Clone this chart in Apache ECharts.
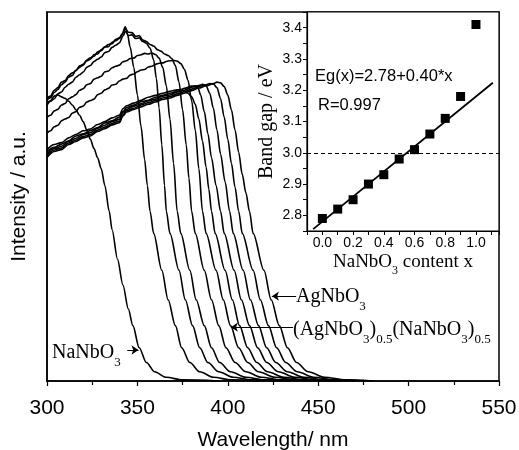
<!DOCTYPE html>
<html>
<head>
<meta charset="utf-8">
<script src="https://cdn.jsdelivr.net/npm/echarts/dist/echarts.min.js"></script>
<style>
  html, body { margin: 0; padding: 0; background: #fff; }
  #main { width: 519px; height: 450px; }
</style>
</head>
<body>
<div id="main"></div>
<script>
// UV-vis spectra, [wavelength nm, intensity a.u.], one array per NaNbO3 content x
const s100 = [[300,75.3],[302,76],[304,77.2],[306,77.5],[308,77],[310,76.6],[312,75.8],[314,74.8],[316,73.5],[318,72],[320,70.3],[322,68],[324,65.5],[326,63],[328,60.5],[330,57.5],[332,53],[334.4,46],[336,41],[339,33],[342,26],[345,19.5],[347.5,15],[351,9],[355,5],[359.5,2.5],[366,1],[375,0.3],[395,0]];
const s090 = [[300,76.2],[302,76.8],[304,78.2],[306,79],[308,80.3],[310,81],[312,82.4],[314,82.8],[316,84.2],[318,85],[320,85.6],[322,86.8],[324,87.2],[326,88.5],[328,88.6],[330,89.8],[332,90.5],[334,90.6],[336,91.8],[338,92.2],[340,92.8],[341.5,94],[343.3,96],[344.5,94],[346,90.5],[348,85],[350,77.5],[352,69],[354,60],[355.5,53],[357,46],[359,40],[363.5,30],[367,22],[371,15],[374.5,9],[379,5],[384.5,2.5],[392,1],[402,0.3],[420,0]];
const s080 = [[300,74.8],[302,75.8],[304,76.5],[306,77.8],[308,78.3],[310,79.6],[312,80.4],[314,81],[316,82.3],[318,83],[320,83.7],[322,85],[324,85.5],[326,86.6],[328,87.2],[330,87.8],[332,89],[334,89.3],[336,90.4],[338,91],[340,91.6],[342,93.5],[343.5,94.8],[345,93.6],[347,93.8],[349,92.8],[351,93],[353,92],[355,91.5],[357,90.2],[359,87],[360.5,82],[362,74],[363.5,64],[365,53],[366,46],[368,40],[373,30],[376.5,22],[380.5,15],[384.5,9],[389,5],[395,2.5],[403,1],[413,0.3],[430,0]];
const s070 = [[300,71.5],[302,72],[304,73.2],[306,73.6],[308,74.8],[310,75.2],[312,76.5],[314,77],[316,77.6],[318,78.8],[320,79.2],[322,80.3],[324,80.6],[326,81.8],[328,82.2],[330,82.6],[332,83.8],[334,84],[336,84.9],[338,85.3],[340,85.6],[342,86.5],[344,86.8],[346,87.4],[348,87.5],[350,88.2],[352,88.4],[354,88.8],[356,88.6],[358,88.9],[360,88.5],[362,87.5],[364,85],[366,80],[368,71],[370,59],[372,46],[374,40],[379,30],[382.5,22],[387,15],[391,9],[395.5,5],[401.5,2.5],[410,1],[420,0.3],[435,0]];
const s060 = [[300,76.7],[302,77.2],[304,78.8],[306,79.5],[308,81],[310,81.4],[312,82.8],[314,83.5],[316,84.1],[318,85.4],[320,85.8],[322,87],[324,87.6],[326,88],[328,89.2],[330,89.5],[332,90.6],[334,91.2],[336,91.4],[338,92.6],[340,93],[342,94.2],[343.3,95.6],[345,94.5],[347,94.4],[349,93.4],[351,93.6],[353,92.4],[355,92],[357,91.2],[359,90.8],[361,89.8],[363,89.4],[365,88.6],[367,88.2],[369,87.4],[371,85.5],[373,81],[375,73.5],[377,64],[378.5,55],[380,46],[382,40],[387,30],[391,22],[395,15],[399,9],[404,5],[410,2.5],[418.5,1],[429,0.3],[445,0]];
const s050 = [[300,67.2],[302,67.8],[304,68.9],[306,69.3],[308,70.5],[310,71],[312,71.4],[314,72.6],[316,73],[318,74.2],[320,74.5],[322,75.6],[324,76],[326,76.4],[328,77.6],[330,78],[332,78.9],[334,79.3],[336,80.2],[338,80.4],[340,81.3],[342,81.8],[344,82],[346,82.9],[348,83.2],[350,83.8],[352,84.3],[354,84.4],[356,85.1],[358,85.3],[360,85.8],[362,86.1],[364,86.2],[366,86.6],[368,86.8],[370,86.9],[372,86.7],[374,86],[376,84.5],[378,81.5],[380,76],[382,68],[384,57.5],[386,46],[388,40],[393.5,30],[397.5,22],[401.5,15],[406,9],[411,5],[417,2.5],[426,1],[437,0.3],[455,0]];
const s040 = [[300,62.7],[304,64.1],[308,64.6],[312,65.9],[316,66.8],[320,67.8],[324,68.3],[328,69.5],[332,70.3],[336,71.3],[340,72],[342,73.8],[344,74.6],[348,75.3],[352,76.1],[356,76.9],[360,77.4],[364,78],[368,78.5],[372,78.9],[374,79],[376,78.6],[378,78],[380,77],[382,75],[384,71],[386,65],[388,58],[389.5,52],[391,46],[393,40],[398.5,30],[402.5,22],[406.5,15],[411,9],[416,5],[422,2.5],[431,1],[442,0.3],[460,0]];
const s030 = [[300,62.2],[304,63.3],[308,64.2],[312,65.1],[316,66.4],[320,67],[324,67.9],[328,68.7],[332,69.9],[336,70.5],[340,71.5],[342,73],[344,74.1],[348,74.8],[352,75.7],[356,76.1],[360,76.9],[364,77.4],[368,78],[372,78.5],[376,79.3],[380,79.9],[382,80],[383.5,79.5],[385,77.5],[387,73],[389,67],[391,60.5],[393.5,53],[396,46],[398,40],[403.5,30],[407.5,22],[412,15],[416.5,9],[421.5,5],[428,2.5],[437,1],[448,0.3],[465,0]];
const s020 = [[300,61.6],[304,63],[308,63.6],[312,64.9],[316,65.8],[320,66.8],[324,67.3],[328,68.5],[332,69.3],[336,70.3],[340,70.9],[342,72.8],[344,73.6],[348,74.5],[352,75.1],[356,75.9],[360,76.4],[364,77.2],[368,77.5],[372,78.3],[376,78.8],[380,79.6],[384,80.1],[386,80.4],[388,80],[390,78],[392,74],[394,68],[396,61.5],[398.5,54],[401,46],[403,40],[408.5,30],[412.5,22],[417,15],[421.5,9],[426.5,5],[433,2.5],[442,1],[453,0.3],[470,0]];
const s010 = [[300,61.1],[304,62.6],[308,63.1],[312,64.5],[316,65.3],[320,66.3],[324,66.8],[328,68],[332,68.8],[336,69.8],[340,70.4],[342,72.1],[344,73.3],[348,73.9],[352,74.8],[356,75.4],[360,76],[364,76.7],[368,77.1],[372,77.8],[376,78.4],[380,79.1],[384,79.8],[388,80.3],[390,80.6],[392,80.5],[394,79.5],[396,76.5],[398,71.5],[400,65.5],[402,59],[404,52.5],[406,46],[408,40],[414,30],[418,22],[422.5,15],[427,9],[432,5],[438.5,2.5],[447.5,1],[459,0.3],[475,0]];
const s000 = [[300,60.6],[304,62.2],[308,62.7],[312,64.1],[316,64.9],[320,65.9],[324,66.4],[328,67.6],[332,68.4],[336,69.4],[340,70],[342,71.8],[344,72.9],[348,73.6],[352,74.3],[356,75],[360,75.6],[364,76.3],[368,76.7],[372,77.4],[376,78],[380,78.7],[384,79.4],[388,80],[392,80.6],[394,81],[396,80.8],[398,79.8],[400,77.5],[402,73.5],[404,68],[406,62],[408,56],[410,51],[412,46],[414,40],[420,30],[424,22],[428.5,15],[433,9],[438,5],[444.5,2.5],[453.5,1],[465,0.3],[480,0]];
const spectra = [s100, s090, s080, s070, s060, s050, s040, s030, s020, s010, s000];

// inset: band gap vs NaNbO3 content
const contentX = [0.0, 0.1, 0.2, 0.3, 0.4, 0.5, 0.6, 0.7, 0.8, 0.9, 1.0];
const bandGap = [2.79, 2.82, 2.85, 2.90, 2.93, 2.98, 3.01, 3.06, 3.11, 3.18, 3.41];
const fitLine = [[-0.06, 2.756], [1.11, 3.224]];
const refGap = 3.0;

// arrows next to the sample labels: [from, to] in wavelength / intensity
const arrowNa = [[344.4, 8.4], [350.6, 8.4]];
const arrowAg = [[437.8, 23], [424.4, 23]];
const arrowMix = [[436.1, 14.6], [401.7, 14.6]];

const SANS = "'Liberation Sans', Arial, sans-serif";
const SERIF = "'Liberation Serif', 'Times New Roman', serif";

const subRich = {
  a: { fontFamily: SERIF, fontSize: 20, color: '#000', lineHeight: 22, verticalAlign: 'top' },
  s: { fontFamily: SERIF, fontSize: 13, color: '#000', lineHeight: 13, padding: [13, 0, 0, 0], verticalAlign: 'top' }
};

var chart = echarts.init(document.getElementById('main'));

var series = spectra.map(function (d, i) {
  var s = {
    type: 'line',
    xAxisIndex: 0,
    yAxisIndex: 0,
    data: d,
    showSymbol: false,
    smooth: 0.3,
    smoothMonotone: 'x',
    lineStyle: { color: '#000', width: 1.6 },
    silent: true
  };
  if (i === 0) {
    s.markLine = {
      silent: true,
      symbol: ['none', 'arrow'],
      symbolSize: 7,
      label: { show: false },
      lineStyle: { color: '#000', width: 1, type: 'solid' },
      data: [arrowNa, arrowAg, arrowMix].map(function (a) {
        return [{ coord: a[0] }, { coord: a[1] }];
      })
    };
  }
  return s;
});

series.push({
  type: 'line',
  xAxisIndex: 1,
  yAxisIndex: 1,
  data: fitLine,
  showSymbol: false,
  lineStyle: { color: '#000', width: 1.8 },
  silent: true,
  z: 10,
  markLine: {
    silent: true,
    symbol: 'none',
    label: { show: false },
    lineStyle: { color: '#000', width: 1, type: [4, 3] },
    data: [{ yAxis: refGap }]
  }
});
series.push({
  type: 'scatter',
  xAxisIndex: 1,
  yAxisIndex: 1,
  data: contentX.map(function (x, i) { return [x, bandGap[i]]; }),
  symbol: 'rect',
  symbolSize: 9,
  itemStyle: { color: '#000', opacity: 1 },
  silent: true,
  z: 11
});

var option = {
  animation: false,
  backgroundColor: '#fff',
  grid: [
    { left: 47, top: 12, right: 20, bottom: 69, outerBoundsMode: 'none', containLabel: false, show: true, borderColor: '#000', borderWidth: 1.5 },
    { left: 307, top: 12, right: 20, bottom: 219, outerBoundsMode: 'none', containLabel: false, show: true, borderColor: '#000', borderWidth: 1.2, backgroundColor: '#fff' }
  ],
  xAxis: [
    {
      gridIndex: 0, type: 'value', min: 300, max: 550, interval: 50,
      name: 'Wavelength/ nm', nameLocation: 'middle', nameGap: 49,
      nameTextStyle: { fontFamily: SANS, fontSize: 21, color: '#000' },
      axisLine: { onZero: false, lineStyle: { color: '#000', width: 1.5 } },
      axisTick: { inside: false, length: 5, lineStyle: { color: '#000', width: 1.2 } },
      minorTick: { show: true, splitNumber: 2, length: 4, lineStyle: { color: '#000', width: 1.2 } },
      axisLabel: { fontFamily: SANS, fontSize: 21, color: '#000', margin: 17 },
      splitLine: { show: false }
    },
    {
      gridIndex: 1, type: 'value', min: -0.1, max: 1.15, interval: 0.1,
      name: '{a|NaNbO}{s|3}{a| content x}', nameLocation: 'middle', nameGap: 22,
      nameTextStyle: { rich: {
        a: { fontFamily: SERIF, fontSize: 19, color: '#000', lineHeight: 21, verticalAlign: 'top' },
        s: { fontFamily: SERIF, fontSize: 12, color: '#000', lineHeight: 12, padding: [12, 0, 0, 0], verticalAlign: 'top' }
      } },
      axisLine: { onZero: false, lineStyle: { color: '#000', width: 1.2 } },
      axisTick: { inside: false, length: 4, lineStyle: { color: '#000' } },
      axisLabel: {
        fontFamily: SANS, fontSize: 14, color: '#000', margin: 5,
        formatter: function (v) {
          var k = Math.round(v * 10);
          return (k >= 0 && k <= 10 && k % 2 === 0) ? (k / 10).toFixed(1) : '';
        }
      },
      splitLine: { show: false }
    }
  ],
  yAxis: [
    {
      gridIndex: 0, type: 'value', min: 0, max: 100,
      name: 'Intensity / a.u.', nameLocation: 'middle', nameGap: 17, nameRotate: 90,
      nameTextStyle: { fontFamily: SANS, fontSize: 21, color: '#000' },
      axisLine: { show: true, onZero: false, lineStyle: { color: '#000', width: 1.5 } },
      axisTick: { show: false },
      axisLabel: { show: false },
      splitLine: { show: false }
    },
    {
      gridIndex: 1, type: 'value', min: 2.75, max: 3.45, interval: 0.05,
      name: 'Band gap / eV', nameLocation: 'middle', nameGap: 30, nameRotate: 90,
      nameTextStyle: { fontFamily: SERIF, fontSize: 20, color: '#000' },
      axisLine: { show: true, onZero: false, lineStyle: { color: '#000', width: 1.2 } },
      axisTick: { inside: false, length: 4, lineStyle: { color: '#000' } },
      axisLabel: {
        fontFamily: SANS, fontSize: 14, color: '#000', margin: 5,
        formatter: function (v) {
          var k = Math.round(v * 100);
          return k % 10 === 0 ? (k / 100).toFixed(1) : '';
        }
      },
      splitLine: { show: false }
    }
  ],
  graphic: [
    { type: 'text', x: 315, y: 76, z: 100, style: { text: 'Eg(x)=2.78+0.40*x', fontFamily: SANS, fontSize: 16.5, fill: '#000', verticalAlign: 'middle' } },
    { type: 'text', x: 318, y: 105, z: 100, style: { text: 'R=0.997', fontFamily: SANS, fontSize: 16.5, fill: '#000', verticalAlign: 'middle' } },
    { type: 'text', x: 52, y: 354, z: 100, style: { text: '{a|NaNbO}{s|3}', rich: subRich, verticalAlign: 'middle' } },
    { type: 'text', x: 296, y: 298, z: 100, style: { text: '{a|AgNbO}{s|3}', rich: subRich, verticalAlign: 'middle' } },
    { type: 'text', x: 293, y: 331, z: 100, style: { text: '{a|(AgNbO}{s|3}{a|)}{s|0.5}{a|(NaNbO}{s|3}{a|)}{s|0.5}', rich: subRich, verticalAlign: 'middle' } }
  ],
  series: series
};

chart.setOption(option);
</script>
</body>
</html>
